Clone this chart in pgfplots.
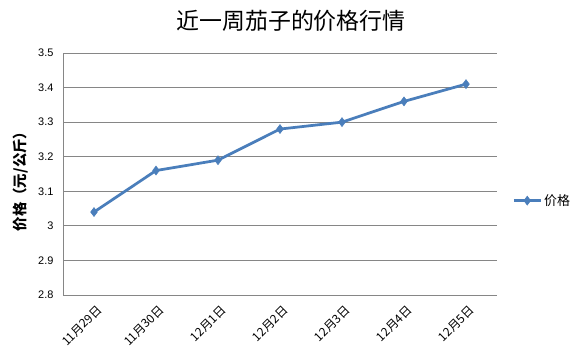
\documentclass[border=0pt]{standalone}
\usepackage{fontspec}
\setmainfont{Liberation Sans}
\newfontfamily\cjk{Noto Sans CJK SC}
\usepackage{pgfplots}
\pgfplotsset{compat=1.18}
\definecolor{lineblue}{RGB}{74,126,187}
\definecolor{gridgray}{RGB}{134,134,134}
\begin{document}
\begin{tikzpicture}
\begin{axis}[
  name=ax,
  scale only axis,
  width=434bp, height=242bp,
  xmin=-0.5, xmax=6.5,
  ymin=2.8, ymax=3.5,
  ytick={2.8,2.9,3.0,3.1,3.2,3.3,3.4,3.5},
  yticklabels={2.8,2.9,3,3.1,3.2,3.3,3.4,3.5},
  xtick={0,1,2,3,4,5,6},
  xticklabels={11月29日,11月30日,12月1日,12月2日,12月3日,12月4日,12月5日},
  xticklabel style={rotate=45, anchor=north east, font=\cjk\fontsize{12}{12}\selectfont, inner sep=1bp, yshift=-7bp, xshift=-4bp},
  yticklabel style={font=\fontsize{11}{11}\selectfont, xshift=-6bp},
  major tick length=0pt,
  axis x line*=bottom,
  axis y line*=left,
  axis line style={gridgray, -, line width=0.8pt},
  ymajorgrids,
  major grid style={gridgray, line width=0.8pt},
  legend style={draw=none, at={(1.035,0.39)}, anchor=west, font=\cjk\fontsize{13}{13}\selectfont, inner sep=0pt},
  legend cell align=left,
  legend image code/.code={\draw[#1, mark=none] (0cm,0cm) -- (27bp,0cm); \path[#1] plot coordinates {(13.5bp,0cm)};},
]
\addplot[lineblue, line width=2.75bp, mark=diamond*, mark size=4.5bp, mark options={fill=lineblue, line width=0.5pt}]
  coordinates {(0,3.04) (1,3.16) (2,3.19) (3,3.28) (4,3.30) (5,3.36) (6,3.41)};
\addlegendentry{价格}
\end{axis}
\node[font=\cjk\fontsize{23}{23}\selectfont] at ([xshift=228bp,yshift=274bp]ax.south west) {近一周茄子的价格行情};
\node[font=\cjk\bfseries\fontsize{14.5}{14.5}\selectfont, rotate=90] at ([xshift=-42bp,yshift=117bp]ax.south west) {价格（元/公斤）};
\path[use as bounding box] ([xshift=-63bp,yshift=-62bp]ax.south west) rectangle ++(583bp,357bp);
\end{tikzpicture}
\end{document}
